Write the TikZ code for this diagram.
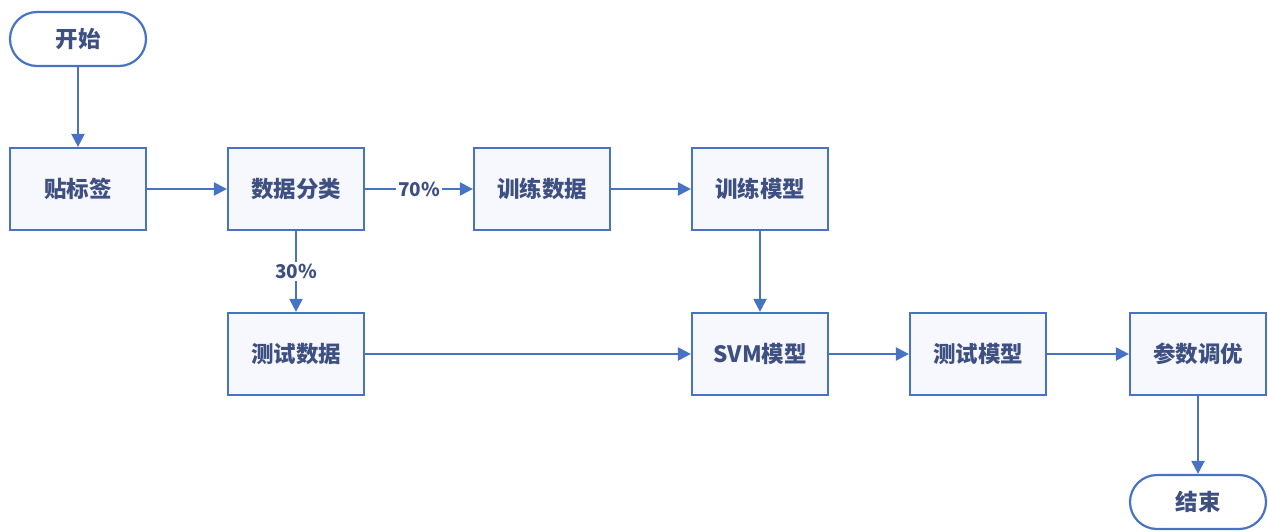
\documentclass[tikz,border=0pt]{standalone}
\usepackage{fontspec}
\setmainfont{Noto Sans CJK SC}
\usetikzlibrary{arrows.meta,positioning}
\definecolor{lineblue}{RGB}{72,114,196}
\definecolor{txtblue}{RGB}{62,80,130}
\definecolor{boxfill}{RGB}{246,248,253}
\begin{document}
\begin{tikzpicture}[x=1pt,y=-1pt,
  box/.style={draw=lineblue,line width=2.2pt,fill=boxfill,minimum width=136pt,minimum height=82pt,inner sep=0pt,
    font=\fontsize{22.5}{25}\selectfont\bfseries,text=txtblue},
  term/.style={draw=lineblue,line width=2.2pt,fill=white,minimum width=136pt,minimum height=54pt,inner sep=0pt,rounded corners=27pt,
    font=\fontsize{22.5}{25}\selectfont\bfseries,text=txtblue},
  arr/.style={draw=lineblue,line width=2.2pt,-{Triangle[length=13pt,width=13pt]}},
  lbl/.style={fill=white,inner sep=2pt,font=\fontsize{19}{21}\selectfont\bfseries,text=txtblue}
]
\useasboundingbox (0,0) rectangle (1268,532);
\node[term] (start) at (78,39) {开始};
\node[box] (label) at (78,189) {贴标签};
\node[box] (split) at (296,189) {数据分类};
\node[box] (train) at (542,189) {训练数据};
\node[box] (tmodel) at (760,189) {训练模型};
\node[box] (test) at (296,354) {测试数据};
\node[box] (svm) at (760,354) {SVM模型};
\node[box] (eval) at (978,354) {测试模型};
\node[box] (tune) at (1198,354) {参数调优};
\node[term] (stop) at (1198,502) {结束};
\draw[arr] (start) -- (label);
\draw[arr] (label) -- (split);
\draw[arr] (split) -- node[lbl,pos=0.5]{70\%} (train);
\draw[arr] (train) -- (tmodel);
\draw[arr] (split) -- node[lbl,pos=0.5]{30\%} (test);
\draw[arr] (tmodel) -- (svm);
\draw[arr] (test) -- (svm);
\draw[arr] (svm) -- (eval);
\draw[arr] (eval) -- (tune);
\draw[arr] (tune) -- (stop);
\end{tikzpicture}
\end{document}
